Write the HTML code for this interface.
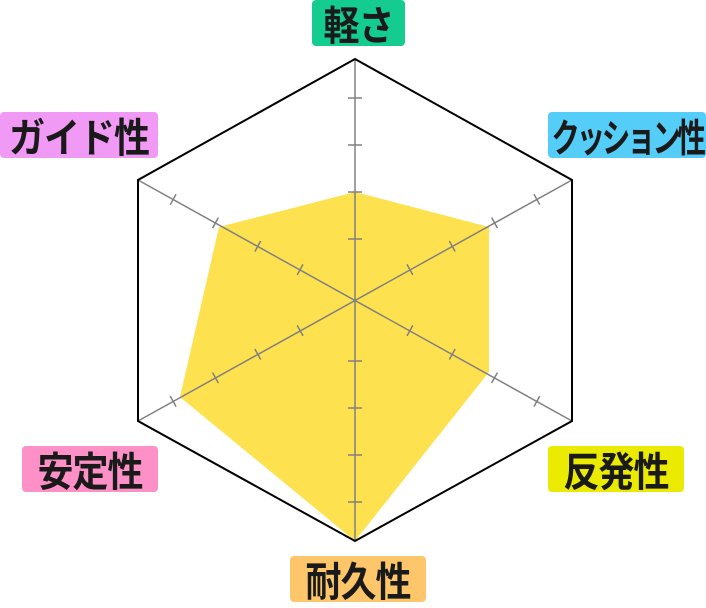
<!DOCTYPE html>
<html><head><meta charset="utf-8"><style>
html,body{margin:0;padding:0;background:#fff;}
body{width:706px;height:602px;position:relative;overflow:hidden;font-family:"Liberation Sans","Noto Sans CJK JP",sans-serif;}
.l{position:absolute;height:46px;border-radius:4px;display:flex;align-items:center;justify-content:center;font-size:36px;font-weight:bold;color:#1a1a1a;letter-spacing:-1px;white-space:nowrap;overflow:visible;}
.l span{display:inline-block;transform:scaleY(1.12);}
</style></head><body>
<svg width="706" height="602" style="position:absolute;left:0;top:0">
<polygon points="355,192 489,227 489,372 355,541 180,397 219,227" fill="#fee14f"/>
<g stroke="#808080" stroke-width="1.5">
<line x1="355" y1="59" x2="355" y2="541"/>
<line x1="138" y1="180" x2="572" y2="421"/>
<line x1="572" y1="180" x2="138" y2="421"/>
</g>
<g stroke="#808080" stroke-width="1.5">
<line x1="348" y1="98" x2="362" y2="98"/><line x1="348" y1="145" x2="362" y2="145"/><line x1="348" y1="192" x2="362" y2="192"/><line x1="348" y1="239" x2="362" y2="239"/>
<line x1="348" y1="361" x2="362" y2="361"/><line x1="348" y1="408" x2="362" y2="408"/><line x1="348" y1="455" x2="362" y2="455"/><line x1="348" y1="502" x2="362" y2="502"/>
</g>
<g stroke="#808080" stroke-width="1.5" id="d">
</g>
<polygon points="355,59 572,180 572,421 355,541 138,421 138,180" fill="none" stroke="#000" stroke-width="2"/>
</svg>
<script>
var g=document.getElementById('d'),cx=355,cy=300,vs=[[217,-120],[217,121],[-217,121],[-217,-120]],fr=[.253,.448,.643,.838];
vs.forEach(function(v){var L=Math.hypot(v[0],v[1]),px=-v[1]/L*6,py=v[0]/L*6;fr.forEach(function(f){var x=cx+v[0]*f,y=cy+v[1]*f;var l=document.createElementNS('http://www.w3.org/2000/svg','line');l.setAttribute('x1',x-px);l.setAttribute('y1',y-py);l.setAttribute('x2',x+px);l.setAttribute('y2',y+py);g.appendChild(l);});});
</script>
<div class="l" style="left:312px;top:0;width:93px;background:#14cc8f"><span>軽さ</span></div>
<div class="l" style="left:0;top:112px;width:158px;background:#f09af5"><span>ガイド性</span></div>
<div class="l" style="left:548px;top:112px;width:158px;background:#55cdf9"><span style="font-size:34px;letter-spacing:-4px;transform:scaleX(0.84) scaleY(1.15)">クッション性</span></div>
<div class="l" style="left:22px;top:446px;width:136px;background:#fd90c6"><span>安定性</span></div>
<div class="l" style="left:548px;top:446px;width:136px;background:#eaeb00"><span>反発性</span></div>
<div class="l" style="left:290px;top:556px;width:136px;background:#fdc66a"><span>耐久性</span></div>
</body></html>
